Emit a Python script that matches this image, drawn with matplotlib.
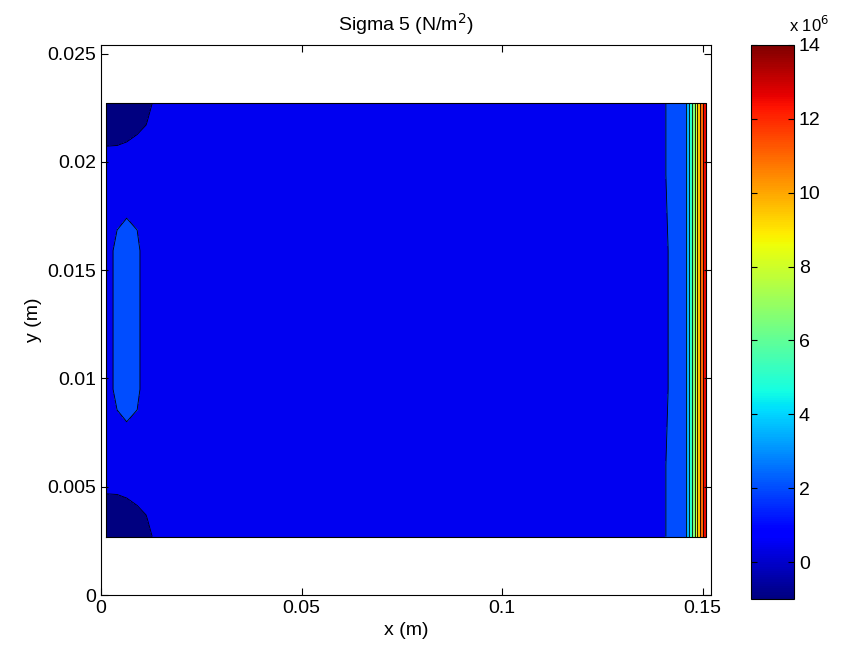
import numpy as np
import matplotlib
matplotlib.use('Agg')
import matplotlib.pyplot as plt
from matplotlib.ticker import FuncFormatter

plt.rcParams['font.family'] = ['Liberation Sans', 'DejaVu Sans']
plt.rcParams['font.size'] = 14

# grid nodes (m) and sigma 5 values at the nodes (x 1e6 N/m^2)
x_nodes = [0.00125, 0.0040, 0.0064, 0.0090, 0.0115, 0.0140, 0.0200, 0.0750, 0.1405, 0.1459, 0.1508]
y_nodes = [0.0027, 0.0037, 0.0047, 0.0060, 0.0095, 0.0127, 0.0159, 0.0194, 0.0207, 0.0217, 0.0227]

row_edge = [-1.0, -0.64, -0.33, 0.01, 0.34, 0.66, 1.2, 1.2, 1.9, 3.5, 14.0]
row_near = [-0.25, -0.17, 0.01, 0.26, 0.53, 0.83, 1.2, 1.2, 1.9, 3.5, 14.0]
row_corner = [0.52, 0.54, 0.64, 0.81, 1.01, 1.2, 1.2, 1.2, 1.9, 3.5, 14.0]
row_bulk = [1.2, 1.2, 1.2, 1.2, 1.2, 1.2, 1.2, 1.2, 1.9, 3.5, 14.0]
row_lens = [1.475, 2.3, 2.6, 2.3, 1.23, 1.2, 1.2, 1.2, 1.7, 3.5, 14.0]

sigma5 = [row_edge, row_near, row_corner, row_bulk,
          row_lens, row_lens, row_lens,
          row_bulk, row_corner, row_near, row_edge]

levels = [-1.0, 0.5, 2.0, 3.5, 5.0, 6.5, 8.0, 9.5, 11.0, 12.5, 14.0]
cbar_ticks = [0, 2, 4, 6, 8, 10, 12, 14]
x_ticks = [0, 0.05, 0.1, 0.15]
y_ticks = [0, 0.005, 0.01, 0.015, 0.02, 0.025]

vmin, vmax = levels[0], levels[-1]
cmap = plt.get_cmap('jet')
norm = matplotlib.colors.Normalize(vmin, vmax)
# matlab style: each band takes the colour of its lower level
fill_colors = [cmap(norm(l)) for l in levels[:-1]]

fig = plt.figure(figsize=(8.42, 6.58), dpi=100)
ax = fig.add_axes([0.120, 0.0957, 0.724, 0.836])
cax = fig.add_axes([0.892, 0.0897, 0.051, 0.842])

X, Y = np.meshgrid(x_nodes, y_nodes)
Z = np.array(sigma5)
ax.contourf(X, Y, Z, levels=levels, colors=fill_colors)
ax.contour(X, Y, Z, levels=levels, colors='k', linewidths=0.6)
ax.plot([x_nodes[0], x_nodes[-1], x_nodes[-1], x_nodes[0], x_nodes[0]],
        [y_nodes[0], y_nodes[0], y_nodes[-1], y_nodes[-1], y_nodes[0]],
        color='k', lw=0.8)

ax.set_xlim(0, 0.152)
ax.set_ylim(0, 0.0254)
ax.set_xticks(x_ticks)
ax.set_yticks(y_ticks)
fmt = FuncFormatter(lambda v, p: '%g' % v)
ax.xaxis.set_major_formatter(fmt)
ax.yaxis.set_major_formatter(fmt)
ax.tick_params(direction='in', top=True, right=True, length=5, width=0.8)
for s in ax.spines.values():
    s.set_linewidth(0.8)
ax.set_xlabel('x (m)')
ax.set_ylabel('y (m)')
ax.set_title('Sigma 5 (N/m$^2$)', fontsize=14, pad=10)

sm = matplotlib.cm.ScalarMappable(norm=norm, cmap=cmap)
cb = fig.colorbar(sm, cax=cax)
cb.set_ticks(cbar_ticks)
cb.ax.yaxis.set_major_formatter(fmt)
cax.tick_params(direction='in', left=True, right=True, length=4, width=0.8)
cb.outline.set_linewidth(0.8)
fig.text(0.937, 0.952, 'x 10$^6$', fontsize=12)

fig.savefig('out.png', dpi=100)
